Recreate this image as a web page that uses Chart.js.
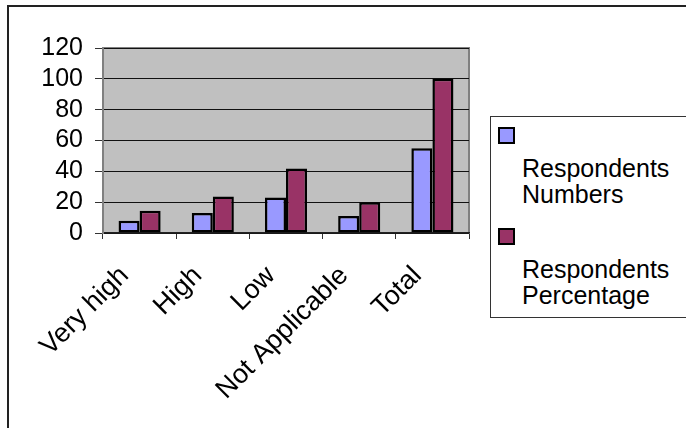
<!DOCTYPE html>
<html>
<head>
<meta charset="utf-8">
<script src="https://cdn.jsdelivr.net/npm/chart.js@4/dist/chart.umd.min.js"></script>
<style>
  html, body { margin: 0; padding: 0; background: #fff; overflow: hidden; }
  #wrap { position: relative; width: 686px; height: 428px; overflow: hidden; }
  #frame { position: absolute; left: 7px; top: 5px; width: 700px; height: 440px;
           border-left: 2px solid #222; border-top: 2px solid #222; box-sizing: border-box; }
  canvas { position: absolute; left: 0; top: 0; }
  #legend { position: absolute; left: 490px; top: 116px; width: 220px; height: 202px;
            border: 1.5px solid #333; box-sizing: border-box; background: #fff;
            font-family: "Liberation Sans", Arial, sans-serif; font-size: 25px; color: #000; }
  .item { position: absolute; left: 7px; }
  .swatch { width: 17px; height: 17px; border: 2px solid #000; box-sizing: border-box; }
  .text { margin-top: 11px; margin-left: 24px; width: 165px; line-height: 26px; }
</style>
</head>
<body>
<div id="wrap">
  <div id="frame"></div>
  <canvas id="chart" width="686" height="428"></canvas>
  <div id="legend"></div>
</div>
<script>
// Survey categories and the two series plotted for each
const categories = ['Very high', 'High', 'Low', 'Not Applicable', 'Total'];
const respondentsNumbers = [8, 13, 23, 11, 55];
const respondentsPercentage = [14.5, 23.6, 41.8, 20, 100];
const yTicks = [0, 20, 40, 60, 80, 100, 120];

const seriesNames = ['Respondents Numbers', 'Respondents Percentage'];
const seriesColors = ['#9999FF', '#993366'];

const FONT_FAMILY = '"Liberation Sans", Arial, sans-serif';

// Grey plot background with a darker frame on top and right
const plotBackground = {
  id: 'plotBackground',
  beforeDraw(chart) {
    const { ctx, chartArea: a } = chart;
    ctx.save();
    ctx.fillStyle = '#C0C0C0';
    ctx.fillRect(a.left, a.top, a.right - a.left, a.bottom - a.top);
    ctx.strokeStyle = '#808080';
    ctx.lineWidth = 2;
    ctx.beginPath();
    ctx.moveTo(a.left, a.top);
    ctx.lineTo(a.right, a.top);
    ctx.lineTo(a.right, a.bottom);
    ctx.stroke();
    ctx.restore();
  }
};

const chart = new Chart(document.getElementById('chart'), {
  type: 'bar',
  data: {
    labels: categories,
    datasets: [
      { label: seriesNames[0], data: respondentsNumbers, backgroundColor: seriesColors[0],
        borderColor: '#000', borderWidth: 2.5, borderSkipped: false },
      { label: seriesNames[1], data: respondentsPercentage, backgroundColor: seriesColors[1],
        borderColor: '#000', borderWidth: 2.5, borderSkipped: false }
    ]
  },
  options: {
    responsive: false,
    animation: false,
    layout: { padding: { left: 0, top: 48, right: 217, bottom: 0 } },
    datasets: { bar: { categoryPercentage: 0.575, barPercentage: 1 } },
    plugins: { legend: { display: false }, tooltip: { enabled: false } },
    scales: {
      x: {
        grid: { display: true, drawOnChartArea: false, drawTicks: true, tickLength: 6,
                color: '#333', offset: true },
        border: { display: true, color: '#222', width: 1.5 },
        ticks: { font: { family: FONT_FAMILY, size: 27 }, color: '#000',
                 minRotation: 45, maxRotation: 45, autoSkip: false,
                 padding: 21, labelOffset: -15 },
        afterFit(scale) { scale.height = 195; }
      },
      y: {
        min: 0, max: 120,
        afterBuildTicks(scale) { scale.ticks = yTicks.map(v => ({ value: v })); },
        grid: { color: '#111', lineWidth: 1, drawTicks: true, tickLength: 8, tickColor: '#333' },
        border: { display: true, color: '#808080', width: 2 },
        ticks: { font: { family: FONT_FAMILY, size: 25 }, color: '#000', padding: 12,
                 autoSkip: false },
        afterFit(scale) { scale.width = 103; }
      }
    }
  },
  plugins: [plotBackground]
});

// Legend built from the chart's datasets
const legend = document.getElementById('legend');
chart.data.datasets.forEach((ds, i) => {
  const item = document.createElement('div');
  item.className = 'item';
  item.style.top = (10 + i * 101) + 'px';
  const sw = document.createElement('div');
  sw.className = 'swatch';
  sw.style.background = ds.backgroundColor;
  const tx = document.createElement('div');
  tx.className = 'text';
  tx.textContent = ds.label;
  item.appendChild(sw);
  item.appendChild(tx);
  legend.appendChild(item);
});
</script>
</body>
</html>
